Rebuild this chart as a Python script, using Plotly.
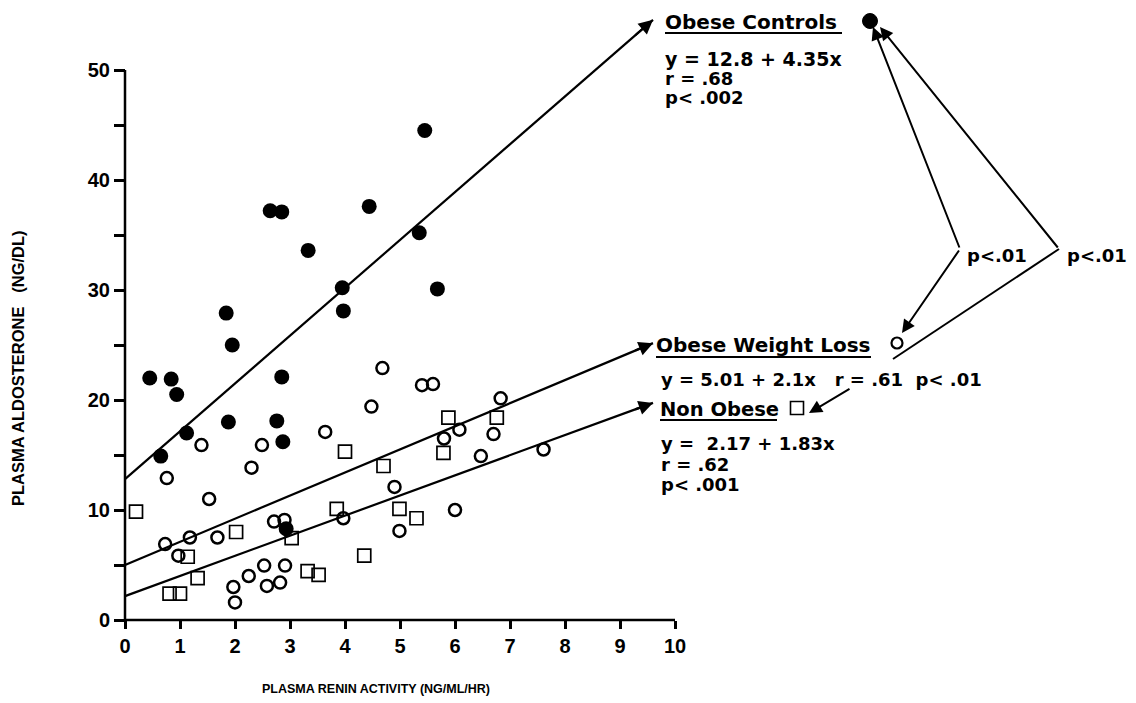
import plotly.graph_objects as go

# The page body has an 8px margin, so the figure is drawn 8px in.
WIN_W, WIN_H = 1136, 703
OFF = 8
W, H = WIN_W - OFF, WIN_H - OFF

# ---------------- data ----------------
# Obese Controls (filled circles)
oc_x = [0.45, 0.65, 0.84, 0.94, 1.12, 1.84, 1.88, 1.95, 2.64, 2.76, 2.85,
        2.85, 2.87, 2.93, 3.33, 3.95, 3.97, 4.44, 5.35, 5.45, 5.68]
oc_y = [22.0, 14.9, 21.9, 20.5, 17.0, 27.9, 18.0, 25.0, 37.2, 18.1, 37.1,
        22.1, 16.2, 8.3, 33.6, 30.2, 28.1, 37.6, 35.2, 44.5, 30.1]

# Obese Weight Loss (open circles)
wl_x = [0.73, 0.76, 0.97, 1.18, 1.39, 1.53, 1.68, 1.97, 2.00, 2.25, 2.30,
        2.49, 2.53, 2.58, 2.71, 2.82, 2.90, 2.91, 3.64, 3.97, 4.48, 4.68,
        4.90, 4.99, 5.40, 5.60, 5.80, 6.00, 6.08, 6.47, 6.70, 6.83, 7.61]
wl_y = [6.9, 12.9, 5.85, 7.5, 15.9, 11.0, 7.5, 3.0, 1.6, 4.0, 13.85,
        15.9, 4.95, 3.1, 8.95, 3.4, 9.1, 4.95, 17.1, 9.25, 19.4, 22.9,
        12.1, 8.1, 21.35, 21.45, 16.5, 10.0, 17.3, 14.9, 16.9, 20.15, 15.5]

# Non Obese (open squares)
no_x = [0.20, 0.81, 1.00, 1.14, 1.32, 2.02, 3.03, 3.32, 3.52, 3.85, 4.00,
        4.35, 4.70, 4.99, 5.30, 5.79, 5.88, 6.76]
no_y = [9.85, 2.4, 2.4, 5.75, 3.8, 8.0, 7.45, 4.45, 4.1, 10.1, 15.3,
        5.85, 14.0, 10.1, 9.25, 15.2, 18.4, 18.4]

# regression fits (intercept, slope)
oc_fit = (12.8, 4.35)
wl_fit = (5.01, 2.1)
no_fit = (2.17, 1.83)
fit_x = [0, 9.6]

x_ticks = list(range(0, 11))
x_tick_labels = [str(v) for v in x_ticks]
y_ticks = list(range(0, 51, 5))
y_tick_labels = [str(v) if v % 10 == 0 else "" for v in y_ticks]

# ---------------- geometry (window pixels) ----------------
X0_PX, X_SCALE = 125, 55.0
Y0_PX, Y_SCALE = 620, 11.0
x_range = [(OFF - X0_PX) / X_SCALE, (WIN_W - X0_PX) / X_SCALE]
y_range = [(Y0_PX - WIN_H) / Y_SCALE, (Y0_PX - OFF) / Y_SCALE]


def px(xp):
    return (xp - OFF) / W


def py(yp):
    return 1 - (yp - OFF) / H


BLACK = "black"
FONT = "Liberation Sans"
LFONT = "DejaVu Sans"

fig = go.Figure()


def fit_line(fit, name):
    b, m = fit
    fig.add_trace(go.Scatter(
        x=fit_x, y=[b + m * v for v in fit_x], mode="lines",
        line=dict(color=BLACK, width=2.2), name=name, showlegend=False,
        hoverinfo="skip"))
    xe = fit_x[-1]
    xs = xe - 0.35
    fig.add_annotation(x=xe, y=b + m * xe, ax=xs, ay=b + m * xs,
                       xref="x", yref="y", axref="x", ayref="y", text="",
                       showarrow=True, arrowhead=2, arrowsize=1.3,
                       arrowwidth=2.2, arrowcolor=BLACK, standoff=0)


fit_line(oc_fit, "Obese Controls fit")
fit_line(wl_fit, "Obese Weight Loss fit")
fit_line(no_fit, "Non Obese fit")

fig.add_trace(go.Scatter(
    x=no_x, y=no_y, mode="markers", name="Non Obese",
    marker=dict(symbol="square-open", size=13, color=BLACK,
                line=dict(width=1.7, color=BLACK)),
    showlegend=False, cliponaxis=False))
fig.add_trace(go.Scatter(
    x=wl_x, y=wl_y, mode="markers", name="Obese Weight Loss",
    marker=dict(symbol="circle-open", size=12, color=BLACK,
                line=dict(width=2.5, color=BLACK)),
    showlegend=False, cliponaxis=False))
fig.add_trace(go.Scatter(
    x=oc_x, y=oc_y, mode="markers", name="Obese Controls",
    marker=dict(symbol="circle", size=15, color=BLACK,
                line=dict(width=0)),
    showlegend=False, cliponaxis=False))

# axis spines
shapes = [
    dict(type="line", xref="x", yref="y", x0=0, y0=0, x1=10, y1=0,
         line=dict(color=BLACK, width=2.5)),
    dict(type="line", xref="x", yref="y", x0=0, y0=0, x1=0, y1=50,
         line=dict(color=BLACK, width=2.5)),
]

# underlines for group labels
for (xa, xb, yy) in [(665, 842, 33), (656, 871, 357), (660, 777, 420)]:
    shapes.append(dict(type="line", xref="paper", yref="paper",
                       x0=px(xa), x1=px(xb), y0=py(yy), y1=py(yy),
                       line=dict(color=BLACK, width=2)))

# legend symbols
shapes.append(dict(type="circle", xref="paper", yref="paper",
                   xsizemode="pixel", ysizemode="pixel",
                   xanchor=px(870), yanchor=py(21),
                   x0=-7.5, x1=7.5, y0=-7.5, y1=7.5,
                   fillcolor=BLACK, line=dict(color=BLACK, width=1)))
shapes.append(dict(type="circle", xref="paper", yref="paper",
                   xsizemode="pixel", ysizemode="pixel",
                   xanchor=px(897), yanchor=py(343),
                   x0=-5.5, x1=5.5, y0=-5.5, y1=5.5,
                   line=dict(color=BLACK, width=2.2)))
shapes.append(dict(type="rect", xref="paper", yref="paper",
                   xsizemode="pixel", ysizemode="pixel",
                   xanchor=px(797), yanchor=py(408),
                   x0=-6.5, x1=6.5, y0=-6.5, y1=6.5,
                   line=dict(color=BLACK, width=1.6)))
# line from right V to weight-loss symbol (no head)
shapes.append(dict(type="line", xref="paper", yref="paper",
                   x0=px(1059), y0=py(249), x1=px(893), y1=py(359),
                   line=dict(color=BLACK, width=2)))

# significance arrows (tail -> tip in window pixels)
arrows = [((960, 249), (873, 27)),
          ((1059, 249), (880, 27)),
          ((960, 249), (902, 333)),
          ((851, 388), (809, 413))]
for (tx, ty), (hx, hy) in arrows:
    fig.add_annotation(x=px(hx), y=py(hy), xref="paper", yref="paper",
                       ax=tx - hx, ay=ty - hy, text="", showarrow=True,
                       arrowhead=2, arrowsize=1.3, arrowwidth=2,
                       arrowcolor=BLACK, standoff=0)

# (text, left px, centre px, font size)
texts = [
    ("Obese Controls", 664, 21, 20),
    ("y = 12.8 + 4.35x", 664, 58, 19),
    ("r = .68", 664, 77, 18),
    ("p< .002", 664, 97, 18),
    ("Obese Weight Loss", 655, 344, 20),
    ("y = 5.01 + 2.1x   r = .61  p< .01", 660, 378, 18),
    ("Non Obese", 659, 408, 19.5),
    ("y =  2.17 + 1.83x", 660, 442, 18),
    ("r = .62", 660, 463, 18),
    ("p< .001", 660, 483, 18),
    ("p<.01", 966, 254, 18),
    ("p<.01", 1066, 254, 18),
]
for t, xl, yc, fs in texts:
    fig.add_annotation(x=px(xl), y=py(yc + 1), xref="paper", yref="paper",
                       text=t, showarrow=False, xanchor="left",
                       yanchor="middle", borderpad=0,
                       font=dict(family=LFONT, size=fs, color=BLACK,
                                 weight="bold"))

# axis titles
fig.add_annotation(x=px(18), y=py(368), xref="paper", yref="paper",
                   text="PLASMA ALDOSTERONE   (NG/DL)", textangle=-90,
                   showarrow=False, xanchor="center", yanchor="middle",
                   font=dict(family=FONT, size=16.5, color=BLACK,
                             weight="bold"))
fig.add_annotation(x=px(376), y=py(689), xref="paper", yref="paper",
                   text="PLASMA RENIN ACTIVITY (NG/ML/HR)",
                   showarrow=False, xanchor="center", yanchor="middle",
                   font=dict(family=FONT, size=12.5, color=BLACK,
                             weight="bold"))

tick_font = dict(family=FONT, size=20, color=BLACK, weight="bold")
fig.update_layout(
    width=W, height=H, margin=dict(l=0, r=0, t=0, b=0),
    paper_bgcolor="white", plot_bgcolor="white",
    shapes=shapes, showlegend=False,
    xaxis=dict(range=x_range, domain=[0, 1], anchor="free",
               position=(WIN_H - Y0_PX) / H, showline=False, showgrid=False,
               zeroline=False, ticks="outside", tickvals=x_ticks,
               ticktext=x_tick_labels, ticklen=8, tickwidth=2.5,
               tickcolor=BLACK, tickfont=tick_font, fixedrange=True),
    yaxis=dict(range=y_range, domain=[0, 1], anchor="free",
               position=(X0_PX - OFF) / W, showline=False, showgrid=False,
               zeroline=False, ticks="outside", tickvals=y_ticks,
               ticktext=y_tick_labels, ticklen=11, tickwidth=2.5,
               tickcolor=BLACK, tickfont=tick_font, fixedrange=True),
)

fig.write_html("out.html")
